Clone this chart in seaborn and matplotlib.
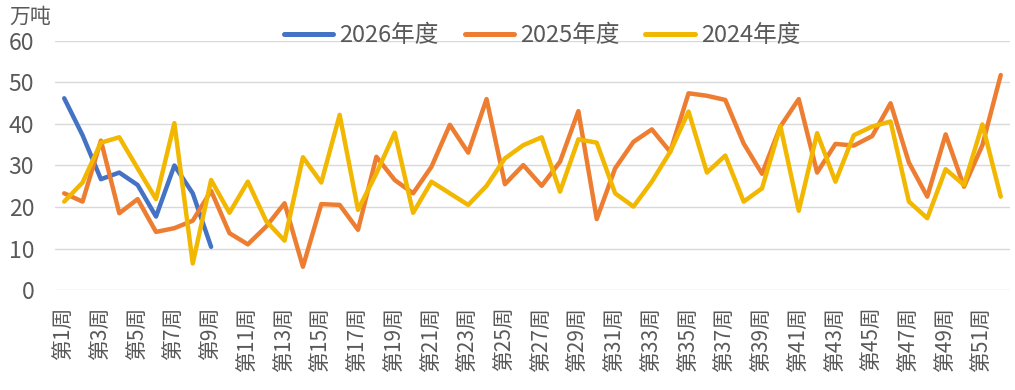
import numpy as np
import pandas as pd
import seaborn as sns
import matplotlib
matplotlib.use('Agg')
import matplotlib.pyplot as plt

# weekly values, 万吨
weeks = list(range(1, 53))
week_labels = [f'第{w}周' for w in weeks]

y2026 = [46.2, 37.3, 26.7, 28.3, 25.3, 17.7, 30.0, 23.3, 10.4]
y2025 = [23.3, 21.3, 36.0, 18.5, 21.9, 14.0, 14.9, 16.7, 23.9, 13.7,
         11.0, 15.3, 20.9, 5.6, 20.7, 20.5, 14.5, 32.1, 26.5, 23.3,
         29.7, 39.8, 33.1, 46.0, 25.5, 30.1, 25.1, 30.9, 43.1, 17.1,
         29.3, 35.7, 38.7, 33.3, 47.4, 46.8, 45.8, 35.3, 28.0, 39.4,
         46.0, 28.3, 35.2, 34.8, 37.1, 45.0, 30.7, 22.5, 37.5, 24.9,
         34.9, 51.8]
y2024 = [21.3, 25.9, 35.5, 36.8, 29.3, 21.9, 40.2, 6.4, 26.5, 18.6,
         26.1, 16.6, 11.9, 32.0, 25.9, 42.2, 19.3, 28.1, 37.9, 18.6,
         26.1, 23.3, 20.5, 25.1, 31.7, 34.9, 36.8, 23.7, 36.3, 35.5,
         23.3, 20.1, 26.1, 33.3, 43.0, 28.3, 32.4, 21.3, 24.5, 39.5,
         19.1, 37.8, 26.1, 37.3, 39.4, 40.6, 21.3, 17.3, 29.1, 25.3,
         39.9, 22.5]

series_names = ['2026年度', '2025年度', '2024年度']
colors = ['#4472C4', '#ED7D31', '#F2B700']

frames = []
for name, vals in zip(series_names, [y2026, y2025, y2024]):
    frames.append(pd.DataFrame({'week': weeks[:len(vals)], 'value': vals, 'year': name}))
df = pd.concat(frames, ignore_index=True)

sns.set_style('white')
plt.rcParams['font.family'] = ['Noto Sans CJK SC', 'DejaVu Sans']

fig = plt.figure(figsize=(10.15, 3.9), dpi=100)
ax = fig.add_axes([0.0542, 0.2564, 0.9408, 0.6385])

sns.lineplot(data=df, x='week', y='value', hue='year', hue_order=series_names,
             palette=colors, linewidth=3.2, ax=ax, legend=False,
             solid_joinstyle='round', solid_capstyle='round')

ax.set_xlim(0.5, 52.5)
ax.set_ylim(0, 60)
ax.set_yticks(range(0, 61, 10))
ax.set_xticks(weeks[::2])
ax.set_xticklabels(week_labels[::2], rotation=90, ha='center', va='top')
ax.tick_params(axis='x', labelsize=15, colors='#595959', length=0, pad=12)
ax.tick_params(axis='y', labelsize=16.5, colors='#595959', length=0, pad=15)
ax.set_xlabel('')
ax.set_ylabel('')
ax.grid(axis='y', color='#D9D9D9', linewidth=1)
ax.grid(axis='x', visible=False)
for s in ax.spines.values():
    s.set_visible(False)
ax.set_axisbelow(True)

fig.text(0.009, 0.958, '万吨', fontsize=15, color='#595959', va='center', ha='left')

handles = [plt.Line2D([], [], color=c, linewidth=3.6, solid_capstyle='round') for c in colors]
fig.legend(handles, series_names, loc='center', bbox_to_anchor=(0.534, 0.908),
           ncol=3, frameon=False, fontsize=17, handlelength=2.1,
           handletextpad=0.25, columnspacing=1.1, labelcolor='#595959')

plt.savefig('out.png', dpi=100)
plt.close()
